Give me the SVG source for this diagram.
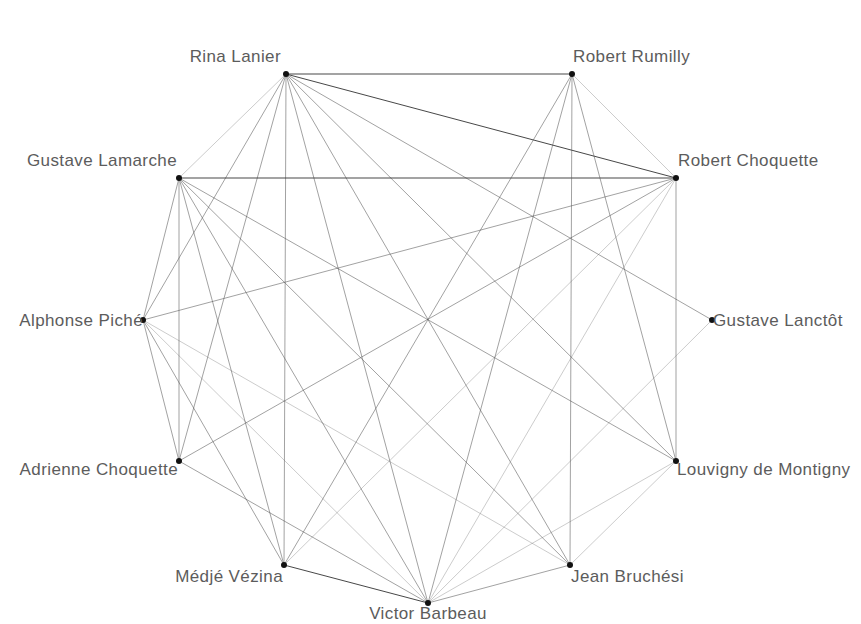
<svg xmlns="http://www.w3.org/2000/svg" width="861" height="624" viewBox="0 0 861 624">
<style>
.e{stroke:#555;stroke-width:1;fill:none;stroke-opacity:.55}
.d{stroke:#333;stroke-opacity:.9}
.l{stroke-opacity:.3}
.n circle{fill:#111}
.n text{font-family:"Liberation Sans",Arial,sans-serif;font-size:17px;letter-spacing:.4px;fill:#5c5c5c}
</style>
<rect width="861" height="624" fill="#fff"/>
<g id="edges">
<line class="e d" x1="286" y1="74" x2="572" y2="74"/>
<line class="e d" x1="286" y1="74" x2="676" y2="178"/>
<line class="e l" x1="286" y1="74" x2="179" y2="178"/>
<line class="e" x1="286" y1="74" x2="143" y2="320"/>
<line class="e" x1="286" y1="74" x2="179" y2="461"/>
<line class="e" x1="286" y1="74" x2="284" y2="565"/>
<line class="e" x1="286" y1="74" x2="428" y2="603"/>
<line class="e" x1="286" y1="74" x2="570" y2="565"/>
<line class="e" x1="286" y1="74" x2="676" y2="461"/>
<line class="e" x1="286" y1="74" x2="712" y2="320"/>
<line class="e d" x1="179" y1="178" x2="676" y2="178"/>
<line class="e" x1="179" y1="178" x2="179" y2="461"/>
<line class="e" x1="179" y1="178" x2="143" y2="320"/>
<line class="e" x1="179" y1="178" x2="284" y2="565"/>
<line class="e" x1="179" y1="178" x2="428" y2="603"/>
<line class="e" x1="179" y1="178" x2="570" y2="565"/>
<line class="e" x1="179" y1="178" x2="676" y2="461"/>
<line class="e l" x1="572" y1="74" x2="676" y2="178"/>
<line class="e" x1="572" y1="74" x2="570" y2="565"/>
<line class="e" x1="572" y1="74" x2="284" y2="565"/>
<line class="e" x1="572" y1="74" x2="428" y2="603"/>
<line class="e" x1="572" y1="74" x2="676" y2="461"/>
<line class="e" x1="676" y1="178" x2="676" y2="461"/>
<line class="e" x1="676" y1="178" x2="179" y2="461"/>
<line class="e" x1="676" y1="178" x2="143" y2="320"/>
<line class="e l" x1="676" y1="178" x2="428" y2="603"/>
<line class="e l" x1="676" y1="178" x2="284" y2="565"/>
<line class="e" x1="143" y1="320" x2="179" y2="461"/>
<line class="e" x1="143" y1="320" x2="284" y2="565"/>
<line class="e l" x1="143" y1="320" x2="428" y2="603"/>
<line class="e l" x1="143" y1="320" x2="570" y2="565"/>
<line class="e" x1="179" y1="461" x2="428" y2="603"/>
<line class="e d" x1="284" y1="565" x2="428" y2="603"/>
<line class="e" x1="428" y1="603" x2="570" y2="565"/>
<line class="e l" x1="428" y1="603" x2="712" y2="320"/>
<line class="e l" x1="428" y1="603" x2="676" y2="461"/>
<line class="e l" x1="570" y1="565" x2="676" y2="461"/>
</g>
<g id="rina-lanier" class="n"><circle cx="286" cy="74" r="3"/><text x="281" y="62" text-anchor="end">Rina Lanier</text></g>
<g id="robert-rumilly" class="n"><circle cx="572" cy="74" r="3"/><text x="573" y="62">Robert Rumilly</text></g>
<g id="gustave-lamarche" class="n"><circle cx="179" cy="178" r="3"/><text x="177" y="166" text-anchor="end">Gustave Lamarche</text></g>
<g id="robert-choquette" class="n"><circle cx="676" cy="178" r="3"/><text x="678" y="166">Robert Choquette</text></g>
<g id="alphonse-piche" class="n"><circle cx="143" cy="320" r="3"/><text x="143" y="326" text-anchor="end">Alphonse Piché</text></g>
<g id="gustave-lanctot" class="n"><circle cx="712" cy="320" r="3"/><text x="713" y="326">Gustave Lanctôt</text></g>
<g id="adrienne-choquette" class="n"><circle cx="179" cy="461" r="3"/><text x="178" y="475" text-anchor="end">Adrienne Choquette</text></g>
<g id="louvigny-de-montigny" class="n"><circle cx="676" cy="461" r="3"/><text x="677" y="475">Louvigny de Montigny</text></g>
<g id="medje-vezina" class="n"><circle cx="284" cy="565" r="3"/><text x="283" y="582" text-anchor="end">Médjé Vézina</text></g>
<g id="jean-bruchesi" class="n"><circle cx="570" cy="565" r="3"/><text x="571" y="582">Jean Bruchési</text></g>
<g id="victor-barbeau" class="n"><circle cx="428" cy="603" r="3"/><text x="428" y="619" text-anchor="middle">Victor Barbeau</text></g>
</svg>
